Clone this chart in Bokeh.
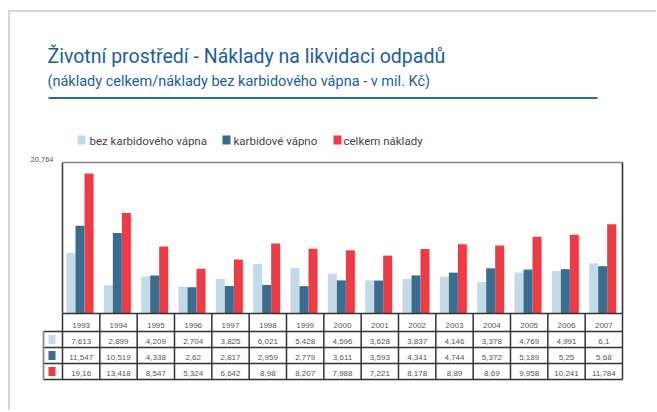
from bokeh.plotting import figure
from bokeh.models import Range1d, ColumnDataSource
from bokeh.transform import dodge
from bokeh.core.properties import value
from bokeh.embed import file_html
from bokeh.resources import INLINE

# ---------------- data ----------------
years = ["1993", "1994", "1995", "1996", "1997", "1998", "1999", "2000",
         "2001", "2002", "2003", "2004", "2005", "2006", "2007"]
bez_karbidoveho = [7.613, 2.899, 4.209, 2.704, 3.825, 6.021, 5.428, 4.596,
                   3.628, 3.837, 4.146, 3.378, 4.769, 4.991, 6.1]
karbidove = [11.547, 10.519, 4.338, 2.62, 2.817, 2.959, 2.779, 3.611,
             3.593, 4.341, 4.744, 5.372, 5.189, 5.25, 5.68]
celkem = [19.16, 13.418, 8.547, 5.324, 6.642, 8.98, 8.207, 7.988,
          7.221, 8.178, 8.89, 8.69, 9.958, 10.241, 11.784]
series_names = ["bez karbidového vápna", "karbidové vápno", "celkem náklady"]
title = "Životní prostředí - Náklady na likvidaci odpadů"
subtitle = "(náklady celkem/náklady bez karbidového vápna - v mil. Kč)"
y_top = 20.764
y_top_label = "20,764"
y_floor = -1.2

# ---------------- style / layout ----------------
COLORS = ["#c3dbe8", "#386d8f", "#f03a44"]
TITLE_COLOR = "#1c5e9d"
TEXT_GRAY = "#555555"
SANS = value("Roboto")
TABLE_FONT = value("Liberation Sans")

OX, OY = 0, 0          # page position of the canvas
W, H = 656, 410
PX_L, PX_R, PY_T, PY_B = 62, 622, 162, 313
n = len(years)
SX = (PX_R - PX_L) / n
SY = (PY_B - PY_T) / (y_top - y_floor)


def X(px):
    return -0.5 + (px - PX_L) / SX


def Y(py):
    return y_floor + (PY_B - py) / SY


p = figure(width=W, height=H, output_backend="svg", toolbar_location=None,
           x_range=Range1d(X(OX), X(OX + W)), y_range=Range1d(Y(OY + H), Y(OY)),
           min_border=0, outline_line_color=None, background_fill_color="white",
           border_fill_color="white")
p.axis.visible = False
p.grid.visible = False

# outer light frame
p.segment(x0=[X(8.5), X(8)], y0=[Y(10), Y(10.5)], x1=[X(8.5), X(OX + W)], y1=[Y(OY + H), Y(10.5)],
          line_color="#cccccc", line_width=1.6)

# titles
p.text(x=[X(47)], y=[Y(56)], text=[title], text_font=SANS, text_font_size="19.5px",
       text_color=TITLE_COLOR, text_baseline="alphabetic")
p.text(x=[X(47)], y=[Y(80.5)], text=[subtitle], text_font=SANS, text_font_size="14.5px",
       text_color=TITLE_COLOR, text_baseline="alphabetic")
p.segment(x0=[X(48)], y0=[Y(97.5)], x1=[X(597)], y1=[Y(97.5)], line_color="#2c6aa7", line_width=2)

# legend
leg_sq_x = [77, 222, 333]
leg_tx_x = [89, 233, 343]
for i in range(3):
    p.rect(x=[X(leg_sq_x[i] + 4)], y=[Y(139.5)], width=8 / SX, height=9 / SY,
           fill_color=COLORS[i], line_color=None)
    p.text(x=[X(leg_tx_x[i])], y=[Y(140)], text=[series_names[i]], text_font=SANS,
           text_font_size="11.5px", text_color="#444444", text_baseline="alphabetic")

# y top label
p.text(x=[X(53)], y=[Y(159)], text=[y_top_label], text_font=TABLE_FONT, text_font_size="7.5px",
       text_color=TEXT_GRAY, text_baseline="alphabetic", text_align="right")

# bars
src = ColumnDataSource(dict(x=list(range(n)), bez=bez_karbidoveho, karb=karbidove, cel=celkem))
bw = 9 / SX
offsets = [-0.272, -0.031, 0.21]
for col, off, c in zip(["bez", "karb", "cel"], offsets, COLORS):
    p.vbar(x=dodge("x", off), top=col, bottom=y_floor, width=bw, source=src,
           fill_color=c, line_color=None)

# plot frame
p.segment(x0=[-0.5], y0=[y_floor], x1=[-0.5], y1=[y_top], line_color="#444444", line_width=1.6)
p.segment(x0=[-0.5], y0=[y_top], x1=[n - 0.5], y1=[y_top], line_color="#888888", line_width=1.6)
p.segment(x0=[n - 0.5], y0=[y_floor], x1=[n - 0.5], y1=[y_top], line_color="#333333", line_width=1.6)

# table
row_lines = [313, 331, 347, 363, 379]
table_left = 43
p.segment(x0=[-0.5, X(table_left), X(table_left), X(table_left), X(table_left)],
          y0=[Y(r) for r in row_lines],
          x1=[n - 0.5] * 5, y1=[Y(r) for r in row_lines],
          line_color="#333333", line_width=1.5)
vx = [i - 0.5 for i in range(n + 1)]
p.segment(x0=vx, y0=[Y(313)] * len(vx), x1=vx, y1=[Y(379)] * len(vx),
          line_color="#333333", line_width=1.5)
p.segment(x0=[X(table_left)], y0=[Y(331)], x1=[X(table_left)], y1=[Y(379)],
          line_color="#888888", line_width=1.8)

p.text(x=list(range(n)), y=[Y(324.5)] * n, text=years, text_font=TABLE_FONT,
       text_font_size="8px", text_color=TEXT_GRAY, text_align="center",
       text_baseline="alphabetic")


def fmt(v):
    return f"{v:.3f}".rstrip("0").rstrip(".").replace(".", ",")


row_base = [340.5, 356.5, 372.7]
for r, series in enumerate([bez_karbidoveho, karbidove, celkem]):
    p.text(x=list(range(n)), y=[Y(row_base[r])] * n, text=[fmt(v) for v in series],
           text_font=TABLE_FONT, text_font_size="8px", text_color=TEXT_GRAY,
           text_align="center", text_baseline="alphabetic")
    cy = (row_lines[r + 1] + row_lines[r + 2]) / 2
    p.rect(x=[X(51.5)], y=[Y(cy)], width=7 / SX, height=9 / SY,
           fill_color=COLORS[r], line_color=None)

open("out.html", "w").write(file_html(p, INLINE))
